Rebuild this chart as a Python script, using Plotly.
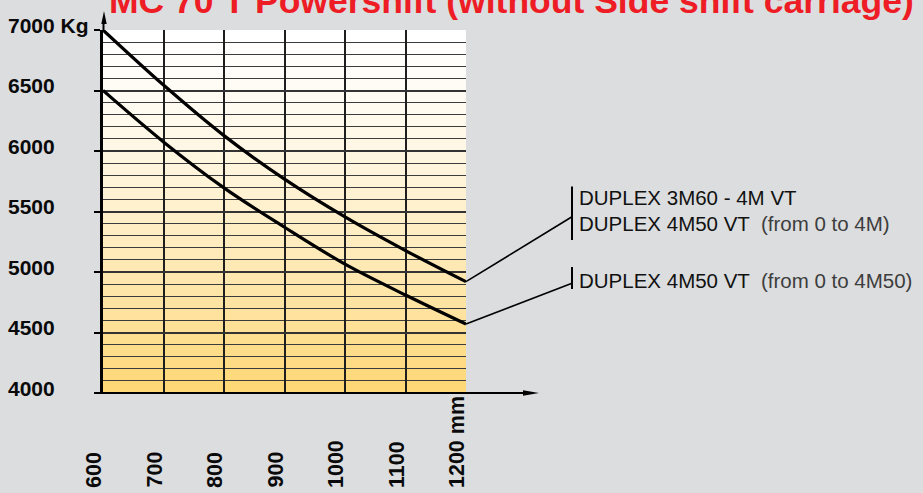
import plotly.graph_objects as go

# ---------------- data ----------------
x_mm = [600, 700, 800, 900, 1000, 1100, 1200]
cap_upper = [7000, 6545, 6127, 5767, 5455, 5177, 4920]
cap_lower = [6500, 6075, 5695, 5370, 5065, 4810, 4570]

y_ticks = [4000, 4500, 5000, 5500, 6000, 6500, 7000]
y_tick_labels = ["4000", "4500", "5000", "5500", "6000", "6500", "7000 Kg"]
x_tick_labels = ["600", "700", "800", "900", "1000", "1100", "1200 mm"]

legend_upper_1 = "DUPLEX 3M60 - 4M VT"
legend_upper_2 = "DUPLEX 4M50 VT"
legend_upper_2_note = "(from 0 to 4M)"
legend_lower = "DUPLEX 4M50 VT"
legend_lower_note = "(from 0 to 4M50)"

title_text = "MC 70 T Powershift (without Side shift carriage)"
footer_text = "MC 70 T Powershift"

X_MIN, X_MAX = 600, 1200
Y_MIN, Y_MAX = 4000, 7000

# ---------------- layout geometry ----------------
W, H = 923, 493
PL, PR, PT, PB = 103, 466, 30, 393  # plot-area pixel box


def px_x(px):
    return (px - PL) / (PR - PL)


def px_y(py):
    return (PB - py) / (PB - PT)


def data_y(v):
    return (v - Y_MIN) / (Y_MAX - Y_MIN)


SANS = "Liberation Sans, Arial, sans-serif"
RED = "#ee1c25"
BG = "#dcdddf"

fig = go.Figure()

for ys in (cap_upper, cap_lower):
    fig.add_trace(go.Scatter(
        x=x_mm, y=ys, mode="lines",
        line=dict(color="black", width=3.2, shape="spline", smoothing=1.0),
        hoverinfo="skip", showlegend=False, cliponaxis=False,
    ))

shapes = []
# gradient background bands (white -> warm yellow)
n_bands = (Y_MAX - Y_MIN) // 100
for k in range(n_bands):
    y0 = Y_MIN + 100 * k
    mid = y0 + 50
    t = (Y_MAX - mid) / (Y_MAX - Y_MIN)
    f = t ** 1.45
    r = round(255 - f * 1)
    g = round(255 - f * 41)
    b = round(255 - f * 140)
    shapes.append(dict(type="rect", xref="x", yref="y", x0=X_MIN, x1=X_MAX,
                       y0=y0, y1=y0 + 100, layer="below",
                       line=dict(width=0), fillcolor=f"rgb({r},{g},{b})"))

# x axis line with arrow
shapes.append(dict(type="line", xref="paper", yref="paper",
                   x0=px_x(97), x1=px_x(528), y0=0, y1=0,
                   line=dict(color="black", width=2)))
shapes.append(dict(type="path", xref="paper", yref="paper",
                   path=f"M {px_x(539)} 0 L {px_x(523)} {px_y(390.3)} L {px_x(523)} {px_y(395.7)} Z",
                   fillcolor="black", line=dict(width=0)))
# y axis arrow
shapes.append(dict(type="line", xref="paper", yref="paper",
                   x0=px_x(103.5), x1=px_x(103.5), y0=1, y1=px_y(20),
                   line=dict(color="black", width=2)))
shapes.append(dict(type="path", xref="paper", yref="paper",
                   path=f"M {px_x(104)} {px_y(11)} L {px_x(101.3)} {px_y(24)} L {px_x(106.7)} {px_y(24)} Z",
                   fillcolor="black", line=dict(width=0)))

# legend bars and connectors
BAR_X = px_x(572)
shapes.append(dict(type="line", xref="paper", yref="paper", x0=BAR_X, x1=BAR_X,
                   y0=px_y(186.5), y1=px_y(240), line=dict(color="black", width=2)))
shapes.append(dict(type="line", xref="paper", yref="paper", x0=BAR_X, x1=BAR_X,
                   y0=px_y(267), y1=px_y(289), line=dict(color="black", width=2)))
shapes.append(dict(type="line", xref="paper", yref="paper",
                   x0=1, y0=data_y(cap_upper[-1]), x1=BAR_X, y1=px_y(216.7),
                   line=dict(color="black", width=1.6)))
shapes.append(dict(type="line", xref="paper", yref="paper",
                   x0=1, y0=data_y(cap_lower[-1]), x1=BAR_X, y1=px_y(283.3),
                   line=dict(color="black", width=1.6)))

annotations = []
# y tick labels (left aligned)
for v, lab in zip(y_ticks, y_tick_labels):
    annotations.append(dict(x=px_x(6), xref="paper", y=v, yref="y", yshift=5,
                            xanchor="left", yanchor="middle", showarrow=False,
                            text=lab,
                            font=dict(family=SANS, size=21, color="#0a0a0a", weight="bold")))
# x tick labels (rotated, bottom aligned)
for v, lab in zip(x_mm, x_tick_labels):
    annotations.append(dict(x=v, xref="x", y=px_y(490), yref="paper", xshift=-9,
                            xanchor="center", yanchor="bottom", textangle=-90,
                            showarrow=False, text=lab,
                            font=dict(family=SANS, size=21.5, color="#0a0a0a", weight="bold")))
# legend labels
LEG_X = px_x(577)
leg_font = dict(family=SANS, size=20.5, color="#111111")
note_span = "<span style='color:#3d3d3d'>%s</span>"
annotations.append(dict(x=LEG_X, xref="paper", y=px_y(197.3), yref="paper",
                        xanchor="left", yanchor="middle", showarrow=False,
                        text=legend_upper_1, font=leg_font))
annotations.append(dict(x=LEG_X, xref="paper", y=px_y(223.3), yref="paper",
                        xanchor="left", yanchor="middle", showarrow=False,
                        text=legend_upper_2 + " \u00a0" + note_span % legend_upper_2_note,
                        font=leg_font))
annotations.append(dict(x=LEG_X, xref="paper", y=px_y(280.7), yref="paper",
                        xanchor="left", yanchor="middle", showarrow=False,
                        text=legend_lower + " \u00a0" + note_span % legend_lower_note,
                        font=leg_font))
# red title (cut off at top) and footer (cut off at bottom)
annotations.append(dict(x=px_x(511), xref="paper", y=px_y(23.4), yref="paper",
                        xanchor="center", yanchor="bottom", showarrow=False,
                        text=title_text,
                        font=dict(family=SANS, size=35.5, color=RED, weight="bold")))
annotations.append(dict(x=px_x(671), xref="paper", y=px_y(483.3), yref="paper",
                        xanchor="left", yanchor="top", showarrow=False,
                        text=footer_text,
                        font=dict(family=SANS, size=35.5, color=RED, weight="bold")))

fig.update_layout(
    width=W, height=H,
    margin=dict(l=PL, r=W - PR, t=PT, b=H - PB, pad=0),
    paper_bgcolor=BG, plot_bgcolor=BG,
    showlegend=False,
    shapes=shapes, annotations=annotations,
    xaxis=dict(range=[X_MIN, X_MAX], dtick=100, tick0=X_MIN,
               showgrid=True, gridcolor="#1e1e1e", gridwidth=1.5,
               showticklabels=False, ticks="", zeroline=False, showline=False,
               fixedrange=True),
    yaxis=dict(range=[Y_MIN, Y_MAX], dtick=500, tick0=Y_MIN,
               showgrid=True, gridcolor="#333333", gridwidth=1.5,
               minor=dict(dtick=100, showgrid=True, gridcolor="#3c3c3c", gridwidth=1.4),
               showticklabels=False, ticks="outside", ticklen=6, tickwidth=2,
               tickcolor="black", zeroline=False,
               showline=True, linecolor="black", linewidth=2.5,
               fixedrange=True),
)

fig.write_html("out.html", config={"displayModeBar": False},
               post_script="document.body.style.margin='0';")
